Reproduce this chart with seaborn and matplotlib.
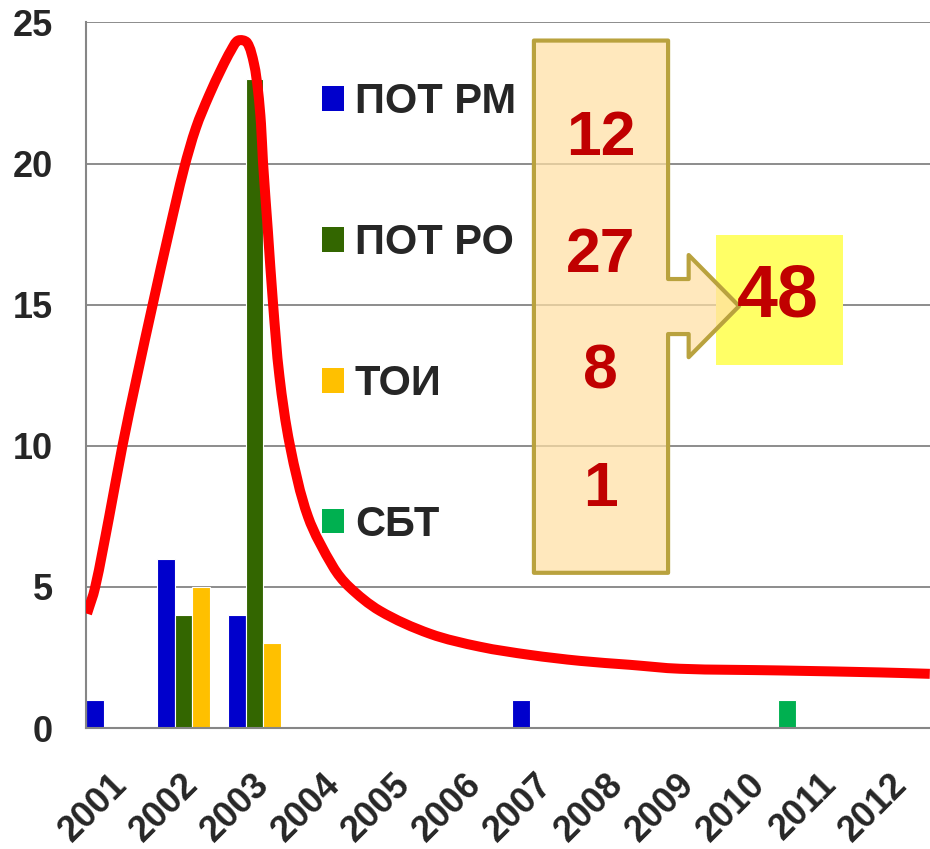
import matplotlib
matplotlib.use("Agg")
import matplotlib.pyplot as plt
from matplotlib.patches import Polygon, Rectangle, Patch, PathPatch
from matplotlib.path import Path
import numpy as np
import pandas as pd
import seaborn as sns

# ---- data -------------------------------------------------------------
years = [2001, 2002, 2003, 2004, 2005, 2006, 2007, 2008, 2009, 2010, 2011, 2012]
series = ["ПОТ РМ", "ПОТ РО", "ТОИ", "СБТ"]
pot_rm = [1, 6, 4, 0, 0, 0, 1, 0, 0, 0, 0, 0]
pot_ro = [0, 4, 23, 0, 0, 0, 0, 0, 0, 0, 0, 0]
toi = [0, 5, 3, 0, 0, 0, 0, 0, 0, 0, 0, 0]
sbt = [0, 0, 0, 0, 0, 0, 0, 0, 0, 1, 0, 0]
colors = ["#0000CC", "#336600", "#FFC000", "#00B050"]

# trend curve: position on the year axis (category units) and value
curve_pos = [-0.486, -0.373, -0.176, 0.014, 0.218, 0.444, 0.669, 0.880, 1.049,
             1.232, 1.415, 1.542, 1.641, 1.768, 1.866, 1.923, 1.965, 1.993,
             2.063, 2.134, 2.225, 2.373, 2.627, 2.979, 3.204, 3.641, 4.345,
             5.049, 5.754, 6.458, 7.162, 7.866, 9.275, 10.683, 11.387]
curve_val = [4.05, 4.97, 7.46, 10.01, 12.46, 15.06, 17.58, 19.82, 21.27,
             22.41, 23.40, 24.01, 24.36, 24.29, 23.54, 22.59, 21.41, 20.06,
             17.58, 15.06, 12.46, 10.01, 7.49, 5.72, 5.01, 4.15, 3.34,
             2.88, 2.59, 2.38, 2.24, 2.10, 2.04, 1.97, 1.92]

# ---- style ------------------------------------------------------------
sns.set_style("white")
plt.rcParams["font.family"] = ["Liberation Sans", "DejaVu Sans"]
plt.rcParams["font.weight"] = "bold"

values = {"ПОТ РМ": pot_rm, "ПОТ РО": pot_ro, "ТОИ": toi, "СБТ": sbt}
rows = []
for name in series:
    for yr, v in zip(years, values[name]):
        if v:
            rows.append({"year": str(yr), "series": name, "count": v})
df = pd.DataFrame(rows)
totals = [sum(values[name]) for name in series]
grand_total = sum(totals)

fig = plt.figure(figsize=(9.3, 8.49), dpi=100)
ax = fig.add_axes([0.0925, 0.1425, 0.9075, 0.831])

sns.barplot(data=df, x="year", y="count", hue="series",
            order=[str(y) for y in years], hue_order=series,
            palette=colors, saturation=1, width=1.0, dodge=True,
            edgecolor="white", linewidth=0.8, legend=False, ax=ax, zorder=2)

# ---- axes -------------------------------------------------------------
grey = "#868686"
ax.set_xlim(-0.5, 11.39)
ax.set_ylim(0, 25)
ax.set_xlabel("")
ax.set_ylabel("")
ax.set_yticks([0, 5, 10, 15, 20, 25])
ax.yaxis.grid(True, color="#8C8C8C", lw=1.4)
ax.set_axisbelow(True)
for side in ("top", "right"):
    ax.spines[side].set_visible(False)
for side in ("left", "bottom"):
    ax.spines[side].set_color(grey)
    ax.spines[side].set_linewidth(1.5)

ax.set_xticks(range(len(years)))
ax.set_xticklabels([str(y) for y in years], rotation=45, ha="right",
                   va="center", rotation_mode="anchor")
ax.set_xticks(np.arange(-0.5, 11.0, 1.0), minor=True)
ax.tick_params(axis="x", which="major", length=0, pad=37, labelsize=26)
ax.tick_params(axis="x", which="minor", length=8, width=1.5, color=grey)
ax.tick_params(axis="y", length=8.6, width=1.5, color=grey, pad=15.5,
               labelsize=26)
for lbl in ax.get_xticklabels() + ax.get_yticklabels():
    lbl.set_fontweight("bold")


# ---- smoothed trend line ------------------------------------------------
def smooth_path(xs, ys):
    """Chord-length Catmull-Rom spline through the points, as Bezier path."""
    to_disp = ax.transData
    pts = to_disp.transform(np.column_stack([xs, ys]))
    seg = np.hypot(*np.diff(pts, axis=0).T)
    t = np.concatenate([[0.0], np.cumsum(seg)])
    n = len(pts)
    tang = np.zeros_like(pts)
    tang[0] = (pts[1] - pts[0]) / (t[1] - t[0])
    tang[-1] = (pts[-1] - pts[-2]) / (t[-1] - t[-2])
    for i in range(1, n - 1):
        tang[i] = (pts[i + 1] - pts[i - 1]) / (t[i + 1] - t[i - 1])
    verts = [pts[0]]
    codes = [Path.MOVETO]
    for i in range(n - 1):
        h = t[i + 1] - t[i]
        verts += [pts[i] + tang[i] * h / 3.0, pts[i + 1] - tang[i + 1] * h / 3.0,
                  pts[i + 1]]
        codes += [Path.CURVE4] * 3
    verts = to_disp.inverted().transform(np.array(verts))
    return Path(verts, codes)


ax.add_patch(PathPatch(smooth_path(curve_pos, curve_val), facecolor="none",
                       edgecolor="#FF0000", lw=7.2, capstyle="butt",
                       joinstyle="round", zorder=3))

# ---- legend -----------------------------------------------------------
handles = [Patch(facecolor=c, edgecolor="none") for c in colors]
ax.legend(handles, series, loc="upper left", bbox_to_anchor=(0.2796, 0.915),
          frameon=False, handlelength=0.53, handleheight=0.53,
          handletextpad=0.26, labelspacing=2.42, borderpad=0,
          borderaxespad=0, prop={"size": 30, "weight": "bold"})

# ---- totals callout -----------------------------------------------------
ax.add_patch(Rectangle((8.37, 12.86), 1.80, 4.61, facecolor="#FFFF66",
                       edgecolor="none", zorder=4))
callout = [(5.81, 24.36), (7.70, 24.36), (7.70, 15.91), (7.99, 15.91),
           (7.99, 16.76), (8.70, 14.95), (7.99, 13.14), (7.99, 13.96),
           (7.70, 13.96), (7.70, 5.50), (5.81, 5.50)]
ax.add_patch(Polygon(callout, closed=True, facecolor=(1.0, 0.878, 0.643, 0.72),
                     edgecolor="#B9A23E", lw=3, joinstyle="round", zorder=5))

red = "#C00000"
for total, ybase in zip(totals, [20.32, 16.16, 12.04, 7.86]):
    ax.text(6.75, ybase, str(total), ha="center", va="baseline",
            fontsize=45, fontweight="bold", color=red, zorder=6)
ax.text(9.25, 14.58, str(grand_total), ha="center", va="baseline",
        fontsize=53, fontweight="bold", color=red, zorder=6)

fig.savefig("out.png", dpi=100)
